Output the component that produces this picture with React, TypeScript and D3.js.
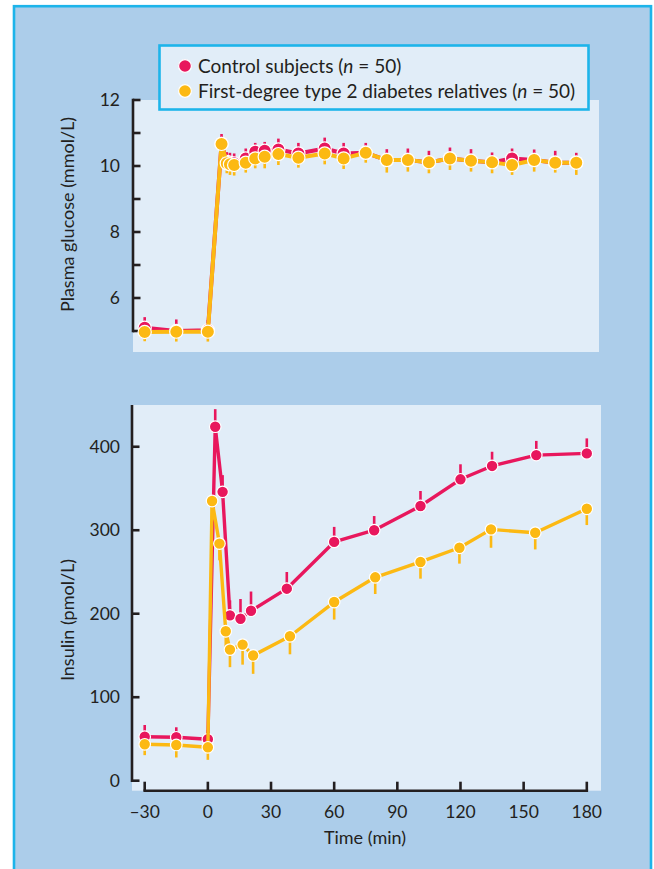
import React from "react";
import * as d3 from "d3";

// Plasma glucose (mmol/L) during the clamp, per sampling time (min)
const glucoseTimes = [-30, -15, 0, 6.5, 9, 10.5, 12.5, 18, 22.5, 27, 33.5, 43, 55.5, 64.5, 75, 85, 95, 105, 115, 125, 135, 144.5, 155, 165, 175];
const glucoseControl = [5.1, 5.0, 5.02, 10.67, 10.12, 10.1, 10.08, 10.23, 10.43, 10.46, 10.5, 10.38, 10.53, 10.38, 10.4, 10.18, 10.18, 10.11, 10.23, 10.16, 10.11, 10.23, 10.18, 10.1, 10.1];
const glucoseControlSE = [0.32, 0.35, 0.31, 0.3, 0.3, 0.3, 0.3, 0.3, 0.27, 0.27, 0.33, 0.32, 0.33, 0.32, 0.3, 0.33, 0.35, 0.35, 0.33, 0.35, 0.3, 0.3, 0.32, 0.36, 0.3];
const glucoseRelatives = [4.97, 4.98, 4.98, 10.67, 10.08, 10.05, 10.03, 10.1, 10.23, 10.28, 10.36, 10.25, 10.38, 10.23, 10.4, 10.18, 10.18, 10.11, 10.23, 10.16, 10.11, 10.03, 10.18, 10.1, 10.1];
const glucoseRelativesSE = [0.28, 0.3, 0.3, 0.3, 0.3, 0.32, 0.32, 0.3, 0.3, 0.35, 0.33, 0.3, 0.33, 0.32, 0.3, 0.38, 0.35, 0.33, 0.35, 0.33, 0.33, 0.3, 0.35, 0.3, 0.37];

// Plasma insulin (pmol/L)
const insulinControlTimes = [-30, -15, 0, 3.5, 7, 10.5, 15.5, 20.5, 37.5, 60, 79, 101, 120, 135, 156, 180];
const insulinControl = [52.7, 52, 49.6, 424, 346, 198, 194, 203.6, 230, 286, 300, 329, 361, 377, 390, 392];
const insulinControlSE = [14, 12, 11, 21, 20, 18, 23.6, 23, 20, 18, 17, 18, 18, 17, 17, 18];
const insulinRelativesTimes = [-30, -15, 0, 2, 5.5, 8.5, 10.5, 16.5, 21.5, 39, 60, 79.5, 101, 119.5, 134.5, 155.5, 180];
const insulinRelatives = [43.6, 42.8, 40, 335, 284, 179, 157, 163, 150, 173, 214, 243.6, 262, 279, 301, 297, 325.7];
const insulinRelativesSE = [13, 15, 15, 20, 20, 20, 21, 24, 22, 21.6, 21, 20, 20, 19, 22, 20, 19.5];

const timeTicks = [-30, 0, 30, 60, 90, 120, 150, 180];
const glucoseTicks = [5, 6, 7, 8, 9, 10, 11, 12];
const glucoseLabels = [6, 8, 10, 12];
const insulinTicks = [0, 100, 200, 300, 400];

const legendLabels = ["Control subjects", "First-degree type 2 diabetes relatives"];

const RED = "#e8175d";
const GOLD = "#fcb913";
const OUTER = "#accdea";
const PANEL = "#e1edf8";
const FRAME = "#1db4ea";
const INK = "#231f20";
const FONT = "Lato, 'Open Sans', sans-serif";

type Pt = { t: number; v: number; se: number };

function zip(ts: number[], vs: number[], ses: number[]): Pt[] {
  return ts.map((t, i) => ({ t, v: vs[i], se: ses[i] }));
}

function Series({
  data, x, y, color, up, r, lw,
}: {
  data: Pt[]; x: d3.ScaleLinear<number, number>; y: d3.ScaleLinear<number, number>;
  color: string; up: boolean; r: number; lw: number;
}) {
  const line = d3.line<Pt>().x((d) => x(d.t)).y((d) => y(d.v));
  return (
    <g>
      {data.map((d, i) => (
        <line key={"e" + i} x1={x(d.t)} x2={x(d.t)} y1={y(d.v)} y2={y(up ? d.v + d.se : d.v - d.se)}
          stroke={color} strokeWidth={2.6} />
      ))}
      <path d={line(data) || ""} fill="none" stroke={color} strokeWidth={lw} strokeLinejoin="round" />
      {data.map((d, i) => (
        <circle key={"c" + i} cx={x(d.t)} cy={y(d.v)} r={r} fill={color} stroke="#fff" strokeWidth={1.2} />
      ))}
    </g>
  );
}

export default function App() {
  const W = 654, H = 869;
  const x = d3.scaleLinear().domain([-30, 180]).range([144.7, 586.8]);
  const yG = d3.scaleLinear().domain([5, 12]).range([331, 100]);
  const yI = d3.scaleLinear().domain([0, 450]).range([780.7, 405]);

  const gC = zip(glucoseTimes, glucoseControl, glucoseControlSE);
  const gR = zip(glucoseTimes, glucoseRelatives, glucoseRelativesSE);
  const iC = zip(insulinControlTimes, insulinControl, insulinControlSE);
  const iR = zip(insulinRelativesTimes, insulinRelatives, insulinRelativesSE);

  const axisW = 2.6;
  const topAxisX = 133;
  const botAxisX = 132;
  const xAxisY = 790.7;

  return (
    <svg width={W} height={H} viewBox={`0 0 ${W} ${H}`}
      style={{ position: "absolute", left: 0, top: 0, display: "block" }} fontFamily={FONT}>
      <rect x={0} y={0} width={W} height={H} fill="#fff" />
      <rect x={14} y={6.2} width={637} height={H} fill={OUTER} stroke={FRAME} strokeWidth={2.6} />

      {/* Glucose panel */}
      <rect x={topAxisX} y={100} width={599 - topAxisX} height={352 - 100} fill={PANEL} />
      <line x1={topAxisX} x2={topAxisX} y1={yG(12) - axisW / 2} y2={yG(5) + axisW / 2} stroke={INK} strokeWidth={axisW} />
      {glucoseTicks.map((t) => (
        <line key={t} x1={topAxisX} x2={topAxisX + 7.5} y1={yG(t)} y2={yG(t)} stroke={INK} strokeWidth={axisW} />
      ))}
      {glucoseLabels.map((t) => (
        <text key={t} x={120} y={yG(t) + 6} textAnchor="end" fontSize={17.5} fill={INK}>{t}</text>
      ))}
      <text transform={`translate(74,${214.5}) rotate(-90)`} textAnchor="middle" fontSize={18} fill={INK}>
        Plasma glucose (mmol/L)
      </text>
      <Series data={gC} x={x} y={yG} color={RED} up={true} r={6.6} lw={4} />
      <Series data={gR} x={x} y={yG} color={GOLD} up={false} r={6.6} lw={4} />

      {/* Insulin panel */}
      <rect x={botAxisX} y={405} width={601 - botAxisX} height={xAxisY - 405} fill={PANEL} />
      <line x1={botAxisX} x2={botAxisX} y1={405} y2={yI(0) + axisW / 2} stroke={INK} strokeWidth={axisW} />
      {insulinTicks.map((t) => (
        <g key={t}>
          <line x1={botAxisX} x2={botAxisX + 7.5} y1={yI(t)} y2={yI(t)} stroke={INK} strokeWidth={axisW} />
          <text x={120} y={yI(t) + 6} textAnchor="end" fontSize={17.5} fill={INK}>{t}</text>
        </g>
      ))}
      <text transform={`translate(74,${620}) rotate(-90)`} textAnchor="middle" fontSize={18} fill={INK}>
        Insulin (pmol/L)
      </text>
      <line x1={x(-30) - axisW / 2} x2={x(180) + axisW / 2} y1={xAxisY} y2={xAxisY} stroke={INK} strokeWidth={axisW} />
      {timeTicks.map((t) => (
        <g key={t}>
          <line x1={x(t)} x2={x(t)} y1={xAxisY} y2={xAxisY - 9} stroke={INK} strokeWidth={axisW} />
          <text x={x(t)} y={818} textAnchor="middle" fontSize={17.5} fill={INK}>
            {t < 0 ? "\u2013" + Math.abs(t) : t}
          </text>
        </g>
      ))}
      <text x={365} y={844} textAnchor="middle" fontSize={18} fill={INK}>Time (min)</text>
      <Series data={iC} x={x} y={yI} color={RED} up={true} r={5.8} lw={3.4} />
      <Series data={iR} x={x} y={yI} color={GOLD} up={false} r={5.8} lw={3.4} />

      {/* Legend */}
      <rect x={159.5} y={45.5} width={429} height={64} fill={PANEL} stroke={FRAME} strokeWidth={2.6} />
      {legendLabels.map((lab, i) => (
        <g key={lab}>
          <circle cx={185} cy={66 + i * 25} r={6.4} fill={i === 0 ? RED : GOLD} stroke="#fff" strokeWidth={1.2} />
          <text x={198} y={72.5 + i * 25} fontSize={19} fill={INK}>
            {lab} (<tspan fontStyle="italic">n</tspan> = 50)
          </text>
        </g>
      ))}
    </svg>
  );
}
